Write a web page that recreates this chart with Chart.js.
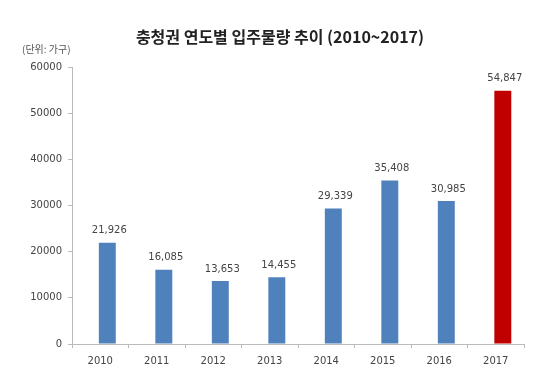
<!DOCTYPE html>
<html>
<head>
<meta charset="utf-8">
<script src="https://cdn.jsdelivr.net/npm/chart.js@4"></script>
<style>
  html, body { margin: 0; padding: 0; background: #fff; }
  #wrap { width: 540px; height: 378px; }
</style>
</head>
<body>
<div id="wrap"><canvas id="myChart" width="540" height="378"></canvas></div>
<script>
const years = ['2010', '2011', '2012', '2013', '2014', '2015', '2016', '2017'];
const supply = [21926, 16085, 13653, 14455, 29339, 35408, 30985, 54847];
// empty first series: the source chart has its bars sitting right of the category centre
const spacer = [null, null, null, null, null, null, null, null];
const yTicks = [0, 10000, 20000, 30000, 40000, 50000, 60000];
const barColors = ['#4f81bd', '#4f81bd', '#4f81bd', '#4f81bd', '#4f81bd', '#4f81bd', '#4f81bd', '#c00000'];

const titleText = '충청권 연도별 입주물량 추이 (2010~2017)';
const unitText = '(단위: 가구)';

// title, unit note and value labels
const extras = {
    id: 'extras',
    afterDatasetsDraw(chart) {
        const ctx = chart.ctx;
        ctx.save();
        ctx.fillStyle = '#222';
        ctx.font = 'bold 16px "Noto Sans CJK KR"';
        ctx.textAlign = 'center';
        ctx.textBaseline = 'middle';
        ctx.fillText(titleText, 280, 37);

        ctx.fillStyle = '#555';
        ctx.font = '10px "Noto Sans CJK KR"';
        ctx.textAlign = 'left';
        ctx.fillText(unitText, 22, 49);

        ctx.fillStyle = '#444';
        ctx.font = '10px "DejaVu Sans"';
        ctx.textAlign = 'center';
        ctx.textBaseline = 'bottom';
        chart.getDatasetMeta(1).data.forEach((bar, i) => {
            ctx.fillText(supply[i].toLocaleString('en-US'), bar.x + 2, bar.y - 7);
        });
        ctx.restore();
    }
};

const config = {
    type: 'bar',
    data: {
        labels: years,
        datasets: [
            { data: spacer, backgroundColor: 'rgba(0,0,0,0)' },
            { data: supply, backgroundColor: barColors }
        ]
    },
    options: {
        responsive: false,
        animation: false,
        datasets: { bar: { categoryPercentage: 0.5, barPercentage: 1.2 } },
        layout: { padding: { top: 67, right: 16, left: 0, bottom: 0 } },
        plugins: {
            legend: { display: false },
            title: { display: false },
            tooltip: { enabled: false }
        },
        scales: {
            x: {
                grid: { drawOnChartArea: false, tickLength: 4, color: '#bbb' },
                border: { color: '#bbb' },
                ticks: { color: '#444', padding: 7, font: { family: 'DejaVu Sans', size: 10 } },
                afterFit: s => { s.height = 34; }
            },
            y: {
                min: 0,
                max: 60000,
                afterBuildTicks: s => { s.ticks = yTicks.map(v => ({ value: v })); },
                grid: { drawOnChartArea: false, tickLength: 4, color: '#bbb' },
                border: { color: '#bbb' },
                ticks: { color: '#444', padding: 6, font: { family: 'DejaVu Sans', size: 10 }, callback: v => String(v) },
                afterFit: s => { s.width = 72; }
            }
        }
    },
    plugins: [extras]
};

new Chart(document.getElementById('myChart'), config);
</script>
</body>
</html>
